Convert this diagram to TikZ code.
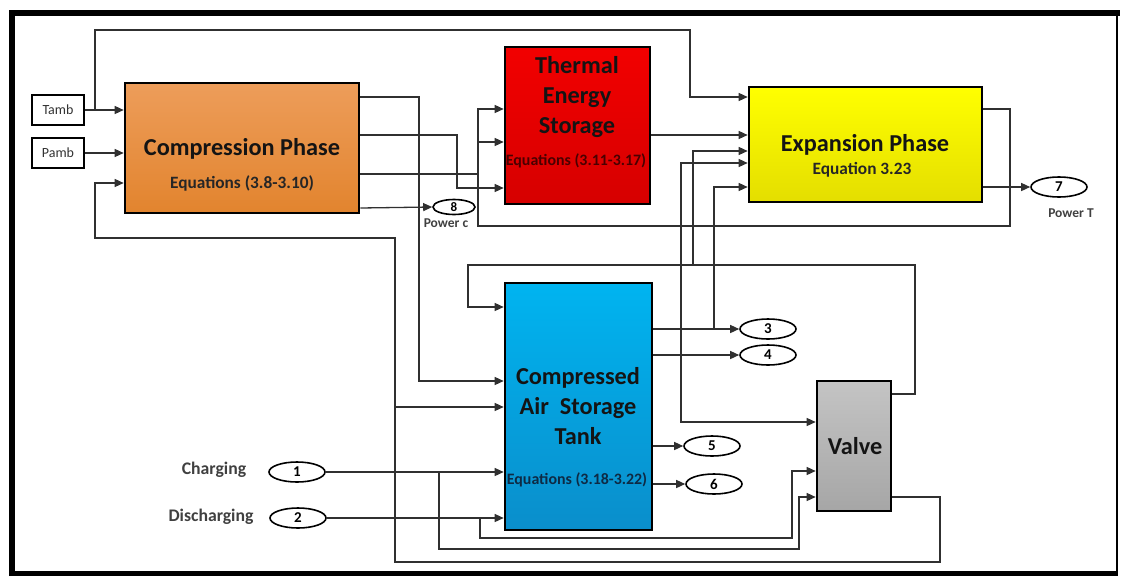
\documentclass[tikz,border=0pt]{standalone}
\usepackage{fontspec}
\setmainfont{Carlito}
\usepackage{tikz}
\usetikzlibrary{arrows.meta, positioning, shapes.geometric}
\definecolor{caesWire}{HTML}{303030}
\definecolor{caesCompT}{HTML}{ED9D5A}
\definecolor{caesCompB}{HTML}{E2842E}
\definecolor{caesTesT}{HTML}{F20000}
\definecolor{caesTesB}{HTML}{D60000}
\definecolor{caesExpT}{HTML}{FFFF00}
\definecolor{caesExpB}{HTML}{E4DE00}
\definecolor{caesCastT}{HTML}{00B4F0}
\definecolor{caesCastB}{HTML}{0A8ECB}
\definecolor{caesValveT}{HTML}{C4C4C4}
\definecolor{caesValveB}{HTML}{A6A6A6}
\definecolor{caesTesEq}{HTML}{4A0000}
\definecolor{caesCastEq}{HTML}{0E2A44}

\begin{document}
\begin{tikzpicture}[x=1pt, y=-1pt,
  block/.style={draw=black, line width=2.6pt, inner sep=0pt},
  src/.style={draw=black, line width=1.8pt, fill=white, minimum width=52pt,
              minimum height=30pt, inner sep=0pt, font=\fontsize{14}{16}\selectfont, text=black!80},
  port/.style={draw=black, ellipse, line width=1.6pt, fill=white, minimum width=56pt,
               minimum height=20pt, inner sep=0pt, font=\fontsize{15}{16}\selectfont\bfseries},
  title/.style={font=\fontsize{24.3}{30}\selectfont\bfseries, align=center, text=black!92},
  eqn/.style={font=\fontsize{17.3}{20}\selectfont\bfseries, text=black!85},
  eqs/.style={font=\fontsize{15.9}{18}\selectfont\bfseries},
  lab/.style={font=\fontsize{17.7}{19}\selectfont\bfseries, text=black!75},
  tag/.style={font=\fontsize{13.5}{15}\selectfont\bfseries, text=black!75},
  wire/.style={line width=1.3pt, draw=caesWire},
  arr/.style={wire, -{Triangle[length=9pt,width=8pt]}}
]
  \useasboundingbox (0,0) rectangle (1124,576);
  \draw[line width=6pt] (12,576) -- (12,13) -- (1120,13);
  \draw[line width=5pt] (9,573) -- (1118,573);
  \draw[line width=2pt] (1117,13) -- (1117,573);

  \node[src] (tamb) at (58,110) {Tamb};
  \node[src] (pamb) at (58,153) {Pamb};
  \node[block, top color=caesCompT, bottom color=caesCompB, minimum width=234pt, minimum height=130pt] (comp) at (242,148) {};
  \node[block, top color=caesTesT, bottom color=caesTesB, minimum width=145pt, minimum height=157pt] (tes) at (577.5,125.5) {};
  \node[block, top color=caesExpT, bottom color=caesExpB, minimum width=233pt, minimum height=115pt] (exp) at (865.5,144.5) {};
  \node[block, top color=caesCastT, bottom color=caesCastB, minimum width=147pt, minimum height=247pt] (cast) at (578.5,406.5) {};
  \node[block, top color=caesValveT, bottom color=caesValveB, minimum width=74pt, minimum height=130pt] (valve) at (854,446) {};

  \node[title] (comptitle) at (242,149) {Compression Phase};
  \node[eqn] (compeq) at (242,183) {Equations (3.8-3.10)};
  \node[title] (testitle) at (577,97) {Thermal\\Energy\\Storage};
  \node[eqs, text=caesTesEq] (teseq) at (576,161) {Equations (3.11-3.17)};
  \node[title] (exptitle) at (865,145) {Expansion Phase};
  \node[eqn] (expeq) at (862,170) {Equation 3.23};
  \node[title] (casttitle) at (578,406) {Compressed\\Air\ \ Storage\\Tank};
  \node[eqs, text=caesCastEq] (casteq) at (577,480) {Equations (3.18-3.22)};
  \node[title] (valvetitle) at (855,446) {Valve};

  \node[port, minimum width=42pt, minimum height=15pt, font=\fontsize{13}{14}\selectfont\bfseries] (out8) at (454,207) {8};
  \node[tag] (powerc) at (446,223) {Power c};
  \node[port] (out7) at (1059,187) {7};
  \node[tag] (powert) at (1071,213) {Power T};
  \node[port] (out3) at (768,329) {3};
  \node[port] (out4) at (768,355) {4};
  \node[port] (out5) at (712,446) {5};
  \node[port] (out6) at (714,484) {6};
  \node[port] (in1) at (297,472) {1};
  \node[port] (in2) at (298,518) {2};
  \node[lab] (charging) at (214,470) {Charging};
  \node[lab] (discharging) at (211,517) {Discharging};

  \draw[arr] (tamb.east) -- (comp.west |- tamb.east);
  \draw[arr] (95,110) -- (95,30) -- (690,30) -- (690,97) -- (exp.west |- 0,97);
  \draw[arr] (pamb.east) -- (comp.west |- pamb.east);
  \draw[arr] (valve.east |- 0,497) -- (940,497) -- (940,562) -- (395,562) -- (395,238)
             -- (95,238) -- (95,183) -- (comp.west |- 0,183);
  \draw[arr] (395,407) -- (cast.west |- 0,407);

  \draw[arr] (comp.east |- 0,97) -- (419,97) -- (419,381) -- (cast.west |- 0,381);
  \draw[arr] (comp.east |- 0,135) -- (457,135) -- (457,188) -- (tes.west |- 0,188);
  \draw[wire] (comp.east |- 0,174) -- (478,174);
  \draw[arr] (comp.east |- 0,208) -- (out8.west);

  \draw[arr] (exp.east |- 0,109) -- (1010,109) -- (1010,226) -- (478,226) -- (478,109) -- (tes.west |- 0,109);
  \draw[arr] (478,142) -- (tes.west |- 0,142);
  \draw[arr] (tes.east |- 0,135) -- (exp.west |- 0,135);
  \draw[arr] (exp.east |- 0,187) -- (out7.west);

  \draw[arr] (valve.east |- 0,394) -- (915,394) -- (915,265) -- (468,265) -- (468,307) -- (cast.west |- 0,307);
  \draw[arr] (693,265) -- (693,151) -- (exp.west |- 0,151);

  \draw[arr] (cast.east |- 0,329) -- (out3.west);
  \draw[arr] (714,329) -- (714,187) -- (exp.west |- 0,187);
  \draw[arr] (cast.east |- 0,355) -- (out4.west);
  \draw[arr] (681,355) -- (681,163) -- (exp.west |- 0,163);
  \draw[arr] (681,355) -- (681,422) -- (valve.west |- 0,422);
  \draw[arr] (cast.east |- 0,446) -- (out5.west);
  \draw[arr] (cast.east |- 0,484) -- (out6.west);

  \draw[arr] (in1.east) -- (cast.west |- in1.east);
  \draw[arr] (439,472) -- (439,549) -- (799,549) -- (799,497) -- (valve.west |- 0,497);
  \draw[arr] (in2.east) -- (cast.west |- in2.east);
  \draw[arr] (480,518) -- (480,538) -- (792,538) -- (792,471) -- (valve.west |- 0,471);
\end{tikzpicture}
\end{document}
